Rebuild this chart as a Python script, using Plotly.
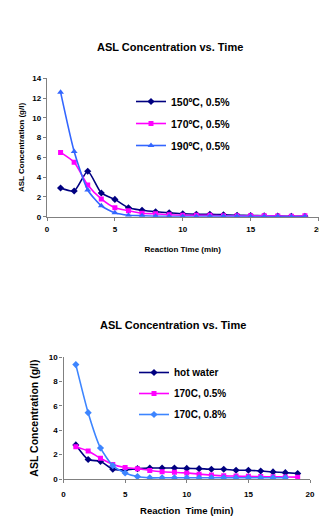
import plotly.graph_objects as go

# ---- data ----
time_top = list(range(1, 20))
c150 = [2.9, 2.6, 4.6, 2.4, 1.75, 0.9, 0.65, 0.5, 0.4, 0.3, 0.25, 0.25, 0.2, 0.15, 0.12, 0.1, 0.06, 0.05, 0.05]
c170 = [6.5, 5.5, 3.2, 1.8, 0.9, 0.6, 0.35, 0.3, 0.2, 0.15, 0.15, 0.15, 0.1, 0.1, 0.1, 0.1, 0.08, 0.05, 0.1]
c190 = [12.6, 6.6, 2.7, 1.1, 0.4, 0.15, 0.1, 0.05, 0.02, 0.02, 0.02, 0.05, 0.05, 0.05, 0.02, 0.02, 0.02, 0.0, 0.02]

time_bot = list(range(1, 20))
time_bot_08 = list(range(1, 19))
hot_water = [2.8, 1.6, 1.45, 0.8, 0.75, 0.85, 0.9, 0.9, 0.9, 0.87, 0.85, 0.8, 0.8, 0.72, 0.72, 0.66, 0.58, 0.52, 0.45]
c170_05 = [2.65, 2.3, 1.7, 1.2, 0.95, 0.85, 0.7, 0.6, 0.55, 0.5, 0.4, 0.32, 0.26, 0.24, 0.22, 0.2, 0.18, 0.17, 0.15]
c170_08 = [9.4, 5.45, 2.55, 1.1, 0.5, 0.2, 0.1, 0.1, 0.1, 0.1, 0.1, 0.1, 0.1, 0.1, 0.1, 0.1, 0.1, 0.1]

# page body has an 8px margin, so the figure is sized to fit inside the window
OFF = 8
W, H = 327 - OFF, 524 - 2 * OFF
FONT = "Arial, Liberation Sans, sans-serif"

def px(p):
    return (p - OFF) / W

def py(p):
    return 1 - (p - OFF) / H

fig = go.Figure()

def add(x, y, name, color, symbol, size, xa, ya, leg, grp):
    fig.add_trace(go.Scatter(x=x, y=y, name="<b>" + name + "</b>", mode="lines+markers",
                             line=dict(color=color, width=1.6, shape="spline", smoothing=0.6),
                             marker=dict(symbol=symbol, size=size, color=color),
                             xaxis=xa, yaxis=ya, legend=leg, legendgroup=grp))

add(time_top, c150, "150ºC, 0.5%", "#000080", "diamond", 5.5, "x", "y", "legend", "a")
add(time_top, c170, "170ºC, 0.5%", "#FF00FF", "square", 5, "x", "y", "legend", "b")
add(time_top, c190, "190ºC, 0.5%", "#3366FF", "triangle-up", 6, "x", "y", "legend", "c")

add(time_bot, hot_water, "hot water", "#000080", "diamond", 5.5, "x2", "y2", "legend2", "d")
add(time_bot, c170_05, "170C, 0.5%", "#FF00FF", "square", 5, "x2", "y2", "legend2", "e")
add(time_bot_08, c170_08, "170C, 0.8%", "#3D85FF", "diamond", 5.5, "x2", "y2", "legend2", "f")

axis_common = dict(showgrid=False, zeroline=False, showline=True, linecolor="#808080",
                   linewidth=1.3, ticks="outside", ticklen=3, tickcolor="#808080",
                   automargin=False, ticklabeloverflow="allow",
                   tickfont=dict(family=FONT, size=8, color="black", weight="bold"))

fig.update_layout(
    width=W, height=H, margin=dict(l=0, r=0, t=0, b=0, autoexpand=False),
    paper_bgcolor="white", plot_bgcolor="white",
    font=dict(family=FONT, color="black"),
    xaxis=dict(domain=[px(47), px(318.5)], range=[0, 20], dtick=5, anchor="y",
               ticklabelstandoff=2,
               title=dict(text="<b>Reaction Time (min)</b>", font=dict(size=8), standoff=12),
               **axis_common),
    yaxis=dict(domain=[py(216.7), py(78.3)], range=[0, 14], dtick=2, anchor="x",
               title=dict(text="<b>ASL Concentration (g/l)</b>", font=dict(size=8), standoff=6),
               **axis_common),
    xaxis2=dict(domain=[px(63.5), px(310)], range=[0, 20], dtick=5, anchor="y2",
                ticklabelstandoff=4,
                title=dict(text="<b>Reaction  Time (min)</b>", font=dict(size=9.5), standoff=10),
                **axis_common),
    yaxis2=dict(domain=[py(479), py(357.3)], range=[0, 10], dtick=2, anchor="x2",
                title=dict(text="<b>ASL Concentration (g/l)</b>", font=dict(size=10.5), standoff=8),
                **axis_common),
    legend=dict(x=px(131), y=py(87), xanchor="left", yanchor="top",
                bgcolor="rgba(0,0,0,0)", font=dict(family=FONT, size=10.5, color="black"),
                tracegroupgap=3, traceorder="grouped", itemwidth=30),
    legend2=dict(x=px(134), y=py(358), xanchor="left", yanchor="top",
                 bgcolor="rgba(0,0,0,0)", font=dict(family=FONT, size=10, color="black"),
                 tracegroupgap=2, traceorder="grouped", itemwidth=30),
    showlegend=True,
    annotations=[
        dict(text="<b>ASL Concentration vs. Time</b>", x=px(170), y=py(47),
             xanchor="center", yanchor="middle",
             xref="paper", yref="paper", showarrow=False, font=dict(size=11)),
        dict(text="<b>ASL Concentration vs. Time</b>", x=px(173), y=py(325),
             xanchor="center", yanchor="middle",
             xref="paper", yref="paper", showarrow=False, font=dict(size=11)),
    ],
)

fig.write_html("out.html")
